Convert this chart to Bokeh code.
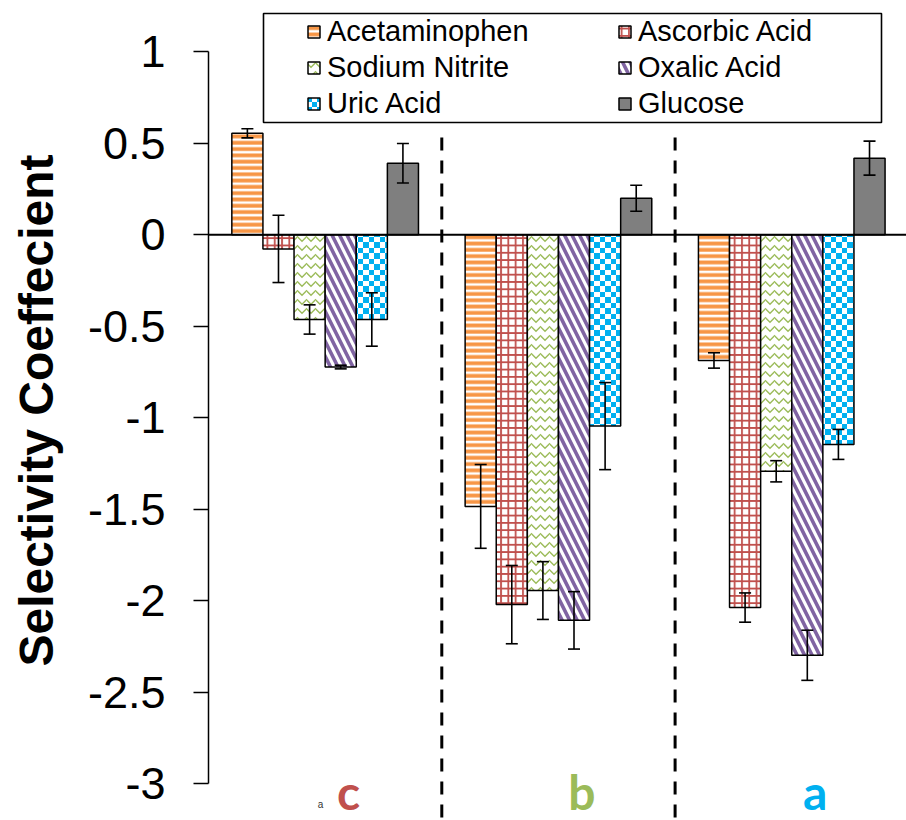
import base64
import struct
import zlib

from bokeh.plotting import figure
from bokeh.models import (Range1d, Legend, LegendItem, Whisker, TeeHead, BoxAnnotation,
                          Span, ColumnDataSource, FixedTicker, ImageURLTexture)
from bokeh.core.properties import value
from bokeh.embed import file_html
from bokeh.resources import INLINE

# ---------------- data ----------------
categories = ["c", "b", "a"]
category_colors = ["#C0504D", "#9BBB59", "#00B0F0"]
series_names = ["Acetaminophen", "Ascorbic Acid", "Sodium Nitrite",
                "Oxalic Acid", "Uric Acid", "Glucose"]

acetaminophen = [0.555, -1.485, -0.687]
acetaminophen_err = [0.025, 0.229, 0.042]
ascorbic_acid = [-0.077, -2.022, -2.038]
ascorbic_acid_err = [0.184, 0.214, 0.080]
sodium_nitrite = [-0.463, -1.945, -1.293]
sodium_nitrite_err = [0.080, 0.158, 0.058]
oxalic_acid = [-0.723, -2.108, -2.299]
oxalic_acid_err = [0.010, 0.157, 0.137]
uric_acid = [-0.463, -1.046, -1.146]
uric_acid_err = [0.146, 0.238, 0.082]
glucose = [0.391, 0.200, 0.419]
glucose_err = [0.108, 0.071, 0.093]

y_ticks = [1, 0.5, 0, -0.5, -1, -1.5, -2, -2.5, -3]
y_tick_labels = ["1", "0.5", "0", "-0.5", "-1", "-1.5", "-2", "-2.5", "-3"]
y_axis_title = "Selectivity Coeffecient"

values = [acetaminophen, ascorbic_acid, sodium_nitrite, oxalic_acid, uric_acid, glucose]
errors = [acetaminophen_err, ascorbic_acid_err, sodium_nitrite_err,
          oxalic_acid_err, uric_acid_err, glucose_err]

# ---------------- layout ----------------
W, H = 906, 820
LEFT = 208
PX_PER_X = 233.3
PX_PER_Y = 182.9
ZERO_PX = 234.3
Y_TOP = ZERO_PX / PX_PER_Y
Y_BOT = Y_TOP - H / PX_PER_Y
X_END = (W - LEFT) / PX_PER_X


def px_x(px):
    return (px - LEFT) / PX_PER_X


def px_y(py):
    return Y_TOP - py / PX_PER_Y


def checker_png(n, half, c1, c2):
    rows = []
    for yy in range(n):
        row = bytearray([0])
        for xx in range(n):
            on = ((xx // half) + (yy // half)) % 2 == 0
            row += bytes(c1 if on else c2)
        rows.append(bytes(row))
    raw = b"".join(rows)

    def chunk(t, d):
        return struct.pack(">I", len(d)) + t + d + struct.pack(">I", zlib.crc32(t + d) & 0xffffffff)

    png = (b"\x89PNG\r\n\x1a\n"
           + chunk(b"IHDR", struct.pack(">IIBBBBB", n, n, 8, 2, 0, 0, 0))
           + chunk(b"IDAT", zlib.compress(raw))
           + chunk(b"IEND", b""))
    return "data:image/png;base64," + base64.b64encode(png).decode()


p = figure(width=W, height=H, x_range=Range1d(0, X_END), y_range=Range1d(Y_BOT, Y_TOP),
           x_axis_location=None, toolbar_location=None, output_backend="svg",
           min_border_left=LEFT, min_border_right=0, min_border_top=0, min_border_bottom=0)
p.outline_line_color = None
p.grid.visible = False
p.background_fill_color = "white"
p.border_fill_color = "white"

checker = ImageURLTexture(url=checker_png(11, 6, (0, 176, 240), (255, 255, 255)))

styles = [
    dict(fill_color="white", hatch_pattern="horizontal_line", hatch_color="#F79646",
         hatch_scale=6.3, hatch_weight=3.8),
    dict(fill_color="white", hatch_pattern="cross", hatch_color="#C0504D",
         hatch_scale=7.3, hatch_weight=1.8),
    dict(fill_color="white", hatch_pattern="horizontal_wave", hatch_color="#9BBB59",
         hatch_scale=9, hatch_weight=1.4),
    dict(fill_color="white", hatch_pattern="left_diagonal_line", hatch_color="#8064A2",
         hatch_scale=15, hatch_weight=3.6),
    dict(fill_color="white", hatch_pattern="pat", hatch_color="#00B0F0",
         hatch_extra={"checker": checker}),
    dict(fill_color="#7F7F7F"),
]

n_series = len(series_names)
bw = 0.8 / n_series
renderers = []
for k, (name, vals, errs, st) in enumerate(zip(series_names, values, errors, styles)):
    xs = [i + 0.5 + (k - (n_series - 1) / 2) * bw for i in range(len(categories))]
    src = ColumnDataSource(dict(
        x=xs, top=vals,
        upper=[v + e for v, e in zip(vals, errs)],
        lower=[v - e for v, e in zip(vals, errs)],
        pat=["checker"] * len(vals),
    ))
    r = p.vbar(x="x", top="top", bottom=0, width=bw, source=src,
               line_color="black", line_width=1.5, **st)
    renderers.append(r)
    wh = Whisker(base="x", upper="upper", lower="lower", source=src, level="annotation",
                 line_color="black", line_width=1.6,
                 upper_head=TeeHead(size=12, line_color="black", line_width=1.6),
                 lower_head=TeeHead(size=12, line_color="black", line_width=1.6))
    p.add_layout(wh)

# zero line
p.add_layout(Span(location=0, dimension="width", line_color="black", line_width=2))

# dashed separators between categories
seps = list(range(1, len(categories)))
p.segment(x0=seps, x1=seps, y0=px_y(137), y1=Y_BOT, line_color="black",
          line_width=3, line_dash="13 10")

# category labels
p.text(x=[i + 0.6 for i in range(len(categories))], y=px_y(791), text=categories,
       text_color=category_colors, text_font=value("Lato"), text_font_style="bold",
       text_font_size="48px", text_align="center", text_baseline="alphabetic")
p.text(x=[px_x(320)], y=[px_y(804)], text=["a"], text_color="#333333",
       text_font=value("Liberation Sans"), text_font_size="10px",
       text_align="center", text_baseline="alphabetic")

# y axis
ax = p.yaxis[0]
ax.bounds = (-3, 1)
ax.ticker = FixedTicker(ticks=y_ticks)
ax.major_label_overrides = {t: s for t, s in zip(y_ticks, y_tick_labels)}
ax.minor_tick_line_color = None
ax.major_tick_in = 0
ax.major_tick_out = 15
ax.major_tick_line_width = 1.5
ax.axis_line_width = 1.5
ax.major_label_standoff = 28
ax.major_label_text_font = "Liberation Sans"
ax.major_label_text_font_size = "45px"
ax.major_label_text_color = "black"
ax.axis_label = y_axis_title
ax.axis_label_text_font = "Liberation Sans"
ax.axis_label_text_font_style = "bold"
ax.axis_label_text_font_size = "48px"
ax.axis_label_text_color = "black"
ax.axis_label_standoff = 22

# legend box
box = BoxAnnotation(left=px_x(263), right=px_x(881), top=px_y(13), bottom=px_y(122),
                    fill_color="white", fill_alpha=1, line_color="black", line_alpha=1,
                    line_width=1.6)
p.add_layout(box)

common = dict(orientation="vertical", border_line_color=None, background_fill_alpha=0,
              padding=0, margin=0, spacing=3, glyph_width=15, glyph_height=15,
              label_standoff=6, label_text_font="Liberation Sans",
              label_text_color="black",
              label_text_font_size="29px", label_height=33)
col1 = [0, 2, 4]
col2 = [1, 3, 5]
leg1 = Legend(items=[LegendItem(label=series_names[i], renderers=[renderers[i]]) for i in col1],
              location=(306 - LEFT, H - 120), **common)
leg2 = Legend(items=[LegendItem(label=series_names[i], renderers=[renderers[i]]) for i in col2],
              location=(617 - LEFT, H - 120), **common)
p.add_layout(leg1)
p.add_layout(leg2)

open("out.html", "w").write(file_html(p, INLINE))
